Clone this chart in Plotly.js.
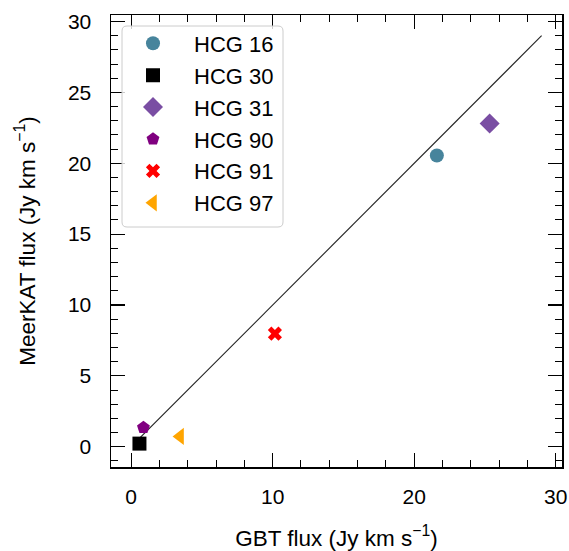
<!DOCTYPE html>
<html>
<head>
<meta charset="utf-8">
<script src="https://cdn.plot.ly/plotly-3.0.1.min.js"></script>
<style>html,body{margin:0;padding:0;background:#fff;}#chart{width:569px;height:551px;}</style>
</head>
<body>
<div id="chart"></div>
<script>
// Data
const groups   = ["HCG 16", "HCG 30", "HCG 31", "HCG 90", "HCG 91", "HCG 97"];
const gbtFlux  = [21.6, 0.59, 25.33, 0.87, 10.16, 3.46];
const meerFlux = [20.55, 0.22, 22.8, 1.35, 7.98, 0.73];
const symbols  = ["circle", "square", "diamond", "pentagon", "x", "triangle-left"];
const colors   = ["#47849c", "#000000", "#7a4ea3", "#800080", "#ff0000", "#ffa500"];
const sizes    = [14, 14, 15.4, 13.5, 12.5, 15];
const lineX    = [0.6, 29];
const lineY    = [0.6, 29];

const L = 111, R = 562, T = 15, B = 467, W = 569, H = 551;
const pw = R - L, ph = B - T;
const px = v => (v - L) / pw;
const py = v => (B - v) / ph;

const traces = [{
  x: lineX, y: lineY, mode: "lines", type: "scatter",
  line: {color: "#222222", width: 1.1}, showlegend: false, hoverinfo: "skip"
}];
groups.forEach((g, i) => {
  traces.push({
    x: [gbtFlux[i]], y: [meerFlux[i]], type: "scatter", mode: "markers",
    name: g, legendgroup: g,
    marker: {symbol: symbols[i], color: colors[i], size: sizes[i], line: {width: 0}}
  });
});

// rounded legend frame
const x0 = px(122), x1 = px(283), y0 = py(227), y1 = py(26);
const rx = 5 / pw, ry = 5 / ph;
const framePath = `M ${x0 + rx},${y1} L ${x1 - rx},${y1} Q ${x1},${y1} ${x1},${y1 - ry} L ${x1},${y0 + ry} Q ${x1},${y0} ${x1 - rx},${y0} L ${x0 + rx},${y0} Q ${x0},${y0} ${x0},${y0 + ry} L ${x0},${y1 - ry} Q ${x0},${y1} ${x0 + rx},${y1} Z`;

const fam = "Liberation Sans, Arial, Helvetica, sans-serif";
const tickFont = {family: fam, size: 21, color: "#000"};
const titleFont = {family: fam, size: 22.5, color: "#000"};
const legendFont = {family: fam, size: 22, color: "#000"};
const axisCommon = {
  showgrid: false, zeroline: false, showline: true, linecolor: "#000", linewidth: 1.5,
  mirror: "allticks", ticks: "inside", ticklen: 14, tickwidth: 1.2, tickcolor: "#000",
  tickfont: tickFont
};

const layout = {
  width: W, height: H,
  margin: {l: L, r: W - R, t: T, b: H - B},
  paper_bgcolor: "#fff", plot_bgcolor: "#fff",
  font: tickFont,
  showlegend: true,
  legend: {x: px(112), y: py(22.5), xanchor: "left", yanchor: "top", bgcolor: "rgba(0,0,0,0)",
           borderwidth: 0, font: legendFont, tracegroupgap: 0.3, itemwidth: 72},
  xaxis: Object.assign({}, axisCommon, {
    range: [-1.42, 30.44], tickvals: [0, 10, 20, 30], ticklabelstandoff: 10,
    minor: {dtick: 2, tick0: 0, ticks: "inside", ticklen: 7, tickwidth: 1, tickcolor: "#000"},
    title: {text: "GBT flux (Jy km s<sup>−1</sup>)", font: titleFont, standoff: 23}
  }),
  yaxis: Object.assign({}, axisCommon, {
    range: [-1.43, 30.46], tickvals: [0, 5, 10, 15, 20, 25, 30], ticklabelstandoff: 14,
    minor: {dtick: 1, tick0: 0, ticks: "inside", ticklen: 7, tickwidth: 1, tickcolor: "#000"},
    title: {text: "MeerKAT flux (Jy km s<sup>−1</sup>)", font: titleFont, standoff: 26}
  }),
  shapes: [{type: "path", xref: "paper", yref: "paper", path: framePath,
            fillcolor: "rgba(255,255,255,0.8)", line: {color: "#cccccc", width: 1}, layer: "above"}]
};

Plotly.newPlot("chart", traces, layout, {staticPlot: true, displayModeBar: false});
</script>
</body>
</html>
